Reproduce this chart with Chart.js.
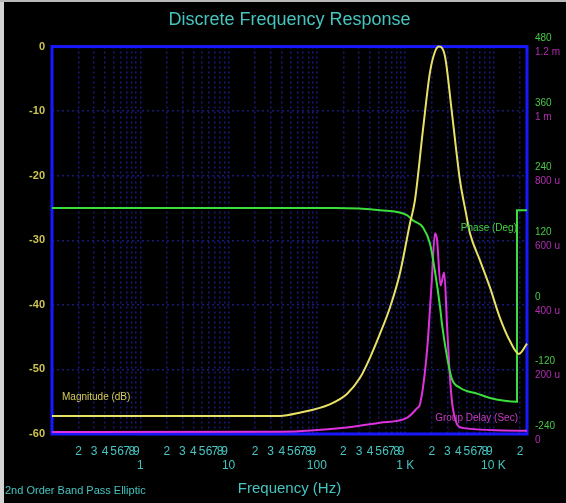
<!DOCTYPE html>
<html>
<head>
<meta charset="utf-8">
<script src="https://cdn.jsdelivr.net/npm/chart.js@4"></script>
<style>
	html, body { margin: 0; padding: 0; background: #000; }
	#wrap { position: relative; width: 566px; height: 503px; }
	#edgeLeft { position: absolute; left: 0; top: 0; width: 4px; height: 503px; background: #d4d4d4; }
	#edgeTop { position: absolute; left: 0; top: 0; width: 566px; height: 2px; background: #b8b8b8; }
</style>
</head>
<body>
<div id="wrap">
	<canvas id="freqChart" width="566" height="503"></canvas>
	<div id="edgeLeft"></div>
	<div id="edgeTop"></div>
</div>
<script>
// magnitude (dB)
const magFreq = [0.1, 38, 64, 140, 219, 308, 399, 518, 673, 873, 1133, 1291, 1591, 1910, 2177, 2415, 2825, 3390, 4178, 4886, 5420, 7035, 9127, 11850, 15380, 19450, 24000];
const magDb = [-57.2, -57.2, -56.7, -55.4, -53.8, -51.3, -48.2, -44.5, -40.4, -35.1, -27.4, -23.8, -12.9, -4.0, -0.8, 0, -1.5, -10.3, -20.7, -25.8, -28.9, -33.1, -37.3, -42.0, -45.6, -47.6, -46.0];

// phase (deg), green trace, wraps at the right edge
const phaseFreq = [0.1, 160, 518, 1047, 1225, 1591, 1910, 2177, 2490, 2610, 2990, 3390, 4178, 4980, 6520, 9127, 18500, 18500, 24000];
const phaseDeg = [180, 180, 176, 167, 157, 144, 114, 62, -5, -35, -98, -138, -154, -160, -165, -173, -180, 176, 176];

// group delay (ms), magenta trace
const delayFreq = [0.1, 38, 219, 518, 1047, 1365, 1475, 1770, 1995, 2177, 2300, 2520, 2770, 2990, 3220, 3470, 4440, 24000];
const delayMs = [0.006, 0.007, 0.02, 0.035, 0.05, 0.08, 0.093, 0.258, 0.467, 0.622, 0.600, 0.46, 0.50, 0.33, 0.174, 0.08, 0.019, 0.01];

const decades = [0.1, 1, 10, 100, 1000, 10000];
const minorSteps = [1, 2, 3, 4, 5, 6, 7, 8, 9];
const decadeLabels = { 1: '1', 10: '10', 100: '100', 1000: '1 K', 10000: '10 K' };
const delayLabels = { 0: '0', 0.2: '200 u', 0.4: '400 u', 0.6: '600 u', 0.8: '800 u', 1: '1 m', 1.2: '1.2 m' };

const fontFace = '"Liberation Sans", Arial, sans-serif';
const teal = 'rgb(70, 196, 192)';
const gridColor = 'rgba(36, 36, 175, 0.7)';

const xTicks = decades
	.flatMap(d => minorSteps.map(m => +(d * m).toPrecision(3)))
	.filter(v => v <= 24000);

function toPoints(xs, ys) {
	return xs.map((x, i) => ({ x: x, y: ys[i] }));
}

function xLabel(value) {
	if (decadeLabels[value]) return ['', decadeLabels[value]];
	const digit = Math.round(value / Math.pow(10, Math.floor(Math.log10(value) + 1e-9)));
	return digit === 1 ? '' : String(digit);
}

const framePlugin = {
	id: 'frame',
	afterLayout(chart) {
		// put the delay labels in the same column as the phase labels
		const phase = chart.scales.phase;
		const delay = chart.scales.delay;
		delay.left = phase.left;
		delay.right = phase.right;
		delay.width = phase.width;
	},
	beforeDatasetsDraw(chart) {
		const { ctx, chartArea: a } = chart;
		ctx.save();
		ctx.strokeStyle = 'rgb(24, 24, 255)';
		ctx.lineWidth = 3;
		ctx.strokeRect(a.left, a.top, a.right - a.left, a.bottom - a.top);
		ctx.restore();
	},
	afterDatasetsDraw(chart) {
		const { ctx, chartArea: a } = chart;
		ctx.save();
		ctx.textBaseline = 'middle';
		ctx.font = '10px ' + fontFace;
		ctx.fillStyle = 'rgb(215, 205, 90)';
		ctx.textAlign = 'left';
		ctx.fillText('Magnitude (dB)', a.left + 10, 397);
		ctx.fillStyle = 'rgb(70, 210, 70)';
		ctx.textAlign = 'right';
		ctx.fillText('Phase (Deg)', a.right - 10, 228);
		ctx.fillStyle = 'rgb(200, 60, 200)';
		ctx.fillText('Group Delay (Sec)', a.right - 9, 418);
		ctx.font = '11px ' + fontFace;
		ctx.fillStyle = teal;
		ctx.textAlign = 'left';
		ctx.fillText('2nd Order Band Pass Elliptic', 5, 491);
		ctx.restore();
	}
};

function createChart() {
	const ctx = document.getElementById('freqChart').getContext('2d');
	new Chart(ctx, {
		type: 'line',
		data: {
			datasets: [
				{
					label: 'Magnitude (dB)',
					data: toPoints(magFreq, magDb),
					yAxisID: 'y',
					borderColor: 'rgb(232, 226, 100)',
					borderWidth: 2,
					pointRadius: 0,
					cubicInterpolationMode: 'monotone',
					clip: 4
				},
				{
					label: 'Phase (Deg)',
					data: toPoints(phaseFreq, phaseDeg),
					yAxisID: 'phase',
					borderColor: 'rgb(60, 222, 60)',
					borderWidth: 2,
					pointRadius: 0,
					cubicInterpolationMode: 'monotone',
					clip: 4
				},
				{
					label: 'Group Delay (Sec)',
					data: toPoints(delayFreq, delayMs),
					yAxisID: 'delay',
					borderColor: 'rgb(222, 50, 222)',
					borderWidth: 2,
					pointRadius: 0,
					cubicInterpolationMode: 'monotone',
					clip: 4
				}
			]
		},
		options: {
			responsive: false,
			animation: false,
			layout: { padding: 0 },
			plugins: {
				legend: { display: false },
				tooltip: { enabled: false },
				title: {
					display: true,
					text: 'Discrete Frequency Response',
					color: teal,
					fullSize: false,
					font: { family: fontFace, size: 18, weight: 'normal' },
					padding: { top: 9, bottom: 16 }
				}
			},
			scales: {
				x: {
					type: 'logarithmic',
					min: 0.1,
					max: 24000,
					afterBuildTicks: (scale) => {
						scale.ticks = xTicks.map(v => ({ value: v }));
					},
					afterFit: (scale) => { scale.height = 69; },
					ticks: {
						autoSkip: false,
						maxRotation: 0,
						padding: 10,
						color: teal,
						font: { family: fontFace, size: 12 },
						callback: (value) => xLabel(value)
					},
					grid: {
						color: gridColor,
						lineWidth: 1.5,
						drawTicks: false
					},
					border: { display: false, dash: [2, 3] },
					title: {
						display: true,
						text: 'Frequency (Hz)',
						color: teal,
						font: { family: fontFace, size: 15 },
						padding: { top: 0, bottom: 5 }
					}
				},
				y: {
					position: 'left',
					min: -60,
					max: 0,
					afterFit: (scale) => { scale.width = 52; },
					ticks: {
						stepSize: 10,
						padding: 7,
						color: 'rgb(205, 195, 80)',
						font: { family: fontFace, size: 11, weight: 'bold' }
					},
					grid: {
						color: gridColor,
						lineWidth: 1.5,
						drawTicks: false
					},
					border: { display: false, dash: [2, 3] }
				},
				phase: {
					position: 'right',
					min: -240,
					max: 480,
					afterFit: (scale) => { scale.width = 39; },
					ticks: {
						stepSize: 120,
						padding: 8,
						labelOffset: -8,
						color: 'rgb(70, 200, 70)',
						font: { family: fontFace, size: 10 }
					},
					grid: { display: false, drawTicks: false },
					border: { display: false }
				},
				delay: {
					position: 'right',
					min: 0,
					max: 1.2,
					afterFit: (scale) => { scale.width = 0; },
					ticks: {
						stepSize: 0.2,
						padding: 8,
						labelOffset: 6,
						color: 'rgb(175, 45, 175)',
						font: { family: fontFace, size: 10 },
						callback: (value) => delayLabels[+value.toFixed(1)]
					},
					grid: { display: false, drawTicks: false },
					border: { display: false }
				}
			}
		},
		plugins: [framePlugin]
	});
}

document.addEventListener('DOMContentLoaded', createChart);
</script>
</body>
</html>
